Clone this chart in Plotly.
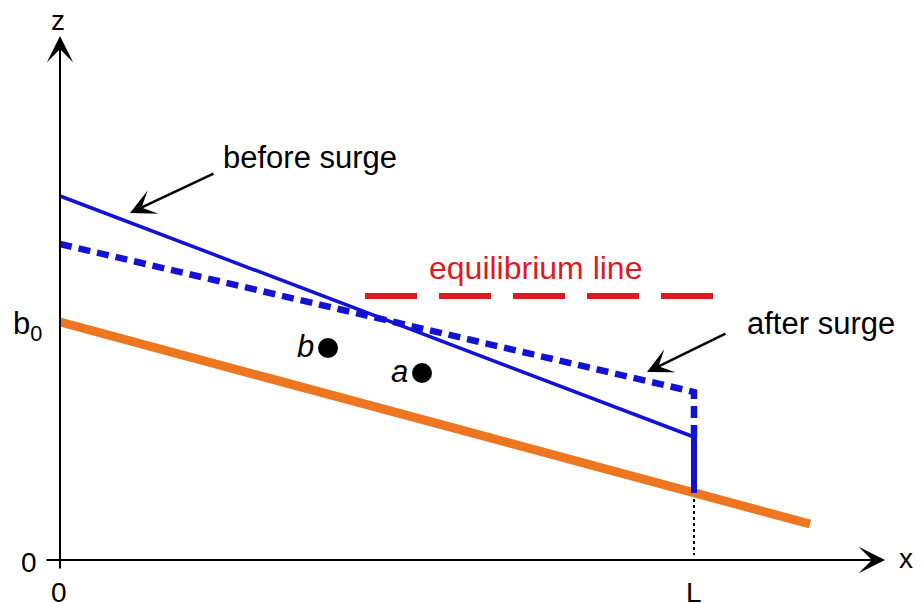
import plotly.graph_objects as go

# Schematic data (x along glacier, z elevation); units are arbitrary
L = 634
bed_x = [0, 750]
bed_z = [238, 36]
before_x = [0, L]
before_z = [364, 123]
front_x = [L, L]
front_z = [123, 67]
after_x = [0, L, L]
after_z = [316, 168, 123]
eq_x = [305, 655]
eq_z = [264, 264]
pt_labels = ["b", "a"]
pt_x = [268, 362]
pt_z = [212, 187]
guide_x = [L, L]
guide_z = [67, 5]

BLUE = "#1212D2"
ORANGE = "#EE7621"
RED = "#DD1A1F"
FONT = "Liberation Sans, Arial, sans-serif"

fig = go.Figure()
fig.add_trace(go.Scatter(x=guide_x, y=guide_z, mode="lines",
                         line=dict(color="black", width=2, dash="3px,3px")))
fig.add_trace(go.Scatter(x=bed_x, y=bed_z, mode="lines",
                         line=dict(color=ORANGE, width=9)))
fig.add_trace(go.Scatter(x=eq_x, y=eq_z, mode="lines",
                         line=dict(color=RED, width=6, dash="52px,22px")))
fig.add_trace(go.Scatter(x=after_x, y=after_z, mode="lines",
                         line=dict(color=BLUE, width=6.5, dash="12px,7px")))
fig.add_trace(go.Scatter(x=before_x, y=before_z, mode="lines",
                         line=dict(color=BLUE, width=3.5)))
fig.add_trace(go.Scatter(x=front_x, y=front_z, mode="lines",
                         line=dict(color=BLUE, width=6)))
fig.add_trace(go.Scatter(x=pt_x, y=pt_z, mode="markers",
                         marker=dict(color="black", size=20)))

ann = []
# axes arrows
ann.append(dict(x=0, y=524, ax=0, ay=-10, xref="x", yref="y", axref="x", ayref="y",
                text="", showarrow=True, arrowhead=3, arrowwidth=2, arrowsize=2.2,
                arrowcolor="black", standoff=0))
ann.append(dict(x=825, y=0, ax=-15, ay=0, xref="x", yref="y", axref="x", ayref="y",
                text="", showarrow=True, arrowhead=3, arrowwidth=2, arrowsize=2.2,
                arrowcolor="black", standoff=0))
# callout arrows
ann.append(dict(x=70, y=347, ax=155, ay=387, xref="x", yref="y", axref="x", ayref="y",
                text="", showarrow=True, arrowhead=3, arrowwidth=2.5, arrowsize=1.7,
                arrowcolor="black", standoff=0))
ann.append(dict(x=587, y=188, ax=667, ay=227, xref="x", yref="y", axref="x", ayref="y",
                text="", showarrow=True, arrowhead=3, arrowwidth=2.5, arrowsize=1.7,
                arrowcolor="black", standoff=0))

def label(x, y, t, size=31, color="black", xanchor="center"):
    ann.append(dict(x=x, y=y, xref="x", yref="y", text=t, showarrow=False,
                    xanchor=xanchor, yanchor="middle",
                    font=dict(family=FONT, size=size, color=color)))

label(250, 403, "before surge")
label(475, 292, "equilibrium line", size=32, color=RED)
label(761, 237, "after surge")
label(-2, 540, "z", size=28)
label(846, 2, "x", size=28)
label(-31, -2, "0", size=28)
label(-1, -32, "0", size=28)
label(L, -32, "L", size=28)
label(-33, 234, "b<sub>0</sub>", size=31)
for t, x, z in zip(pt_labels, pt_x, pt_z):
    label(x - 23, z + 2, "<i>" + t + "</i>", size=31)

fig.update_layout(
    width=922, height=603, autosize=False,
    margin=dict(l=0, r=0, t=0, b=0),
    paper_bgcolor="white", plot_bgcolor="white",
    showlegend=False,
    annotations=ann,
    xaxis=dict(range=[-60, 862], visible=False, fixedrange=True),
    yaxis=dict(range=[-43, 560], visible=False, fixedrange=True),
)
fig.write_html("out.html", config={"displayModeBar": False},
               post_script="document.body.style.margin='0';")
